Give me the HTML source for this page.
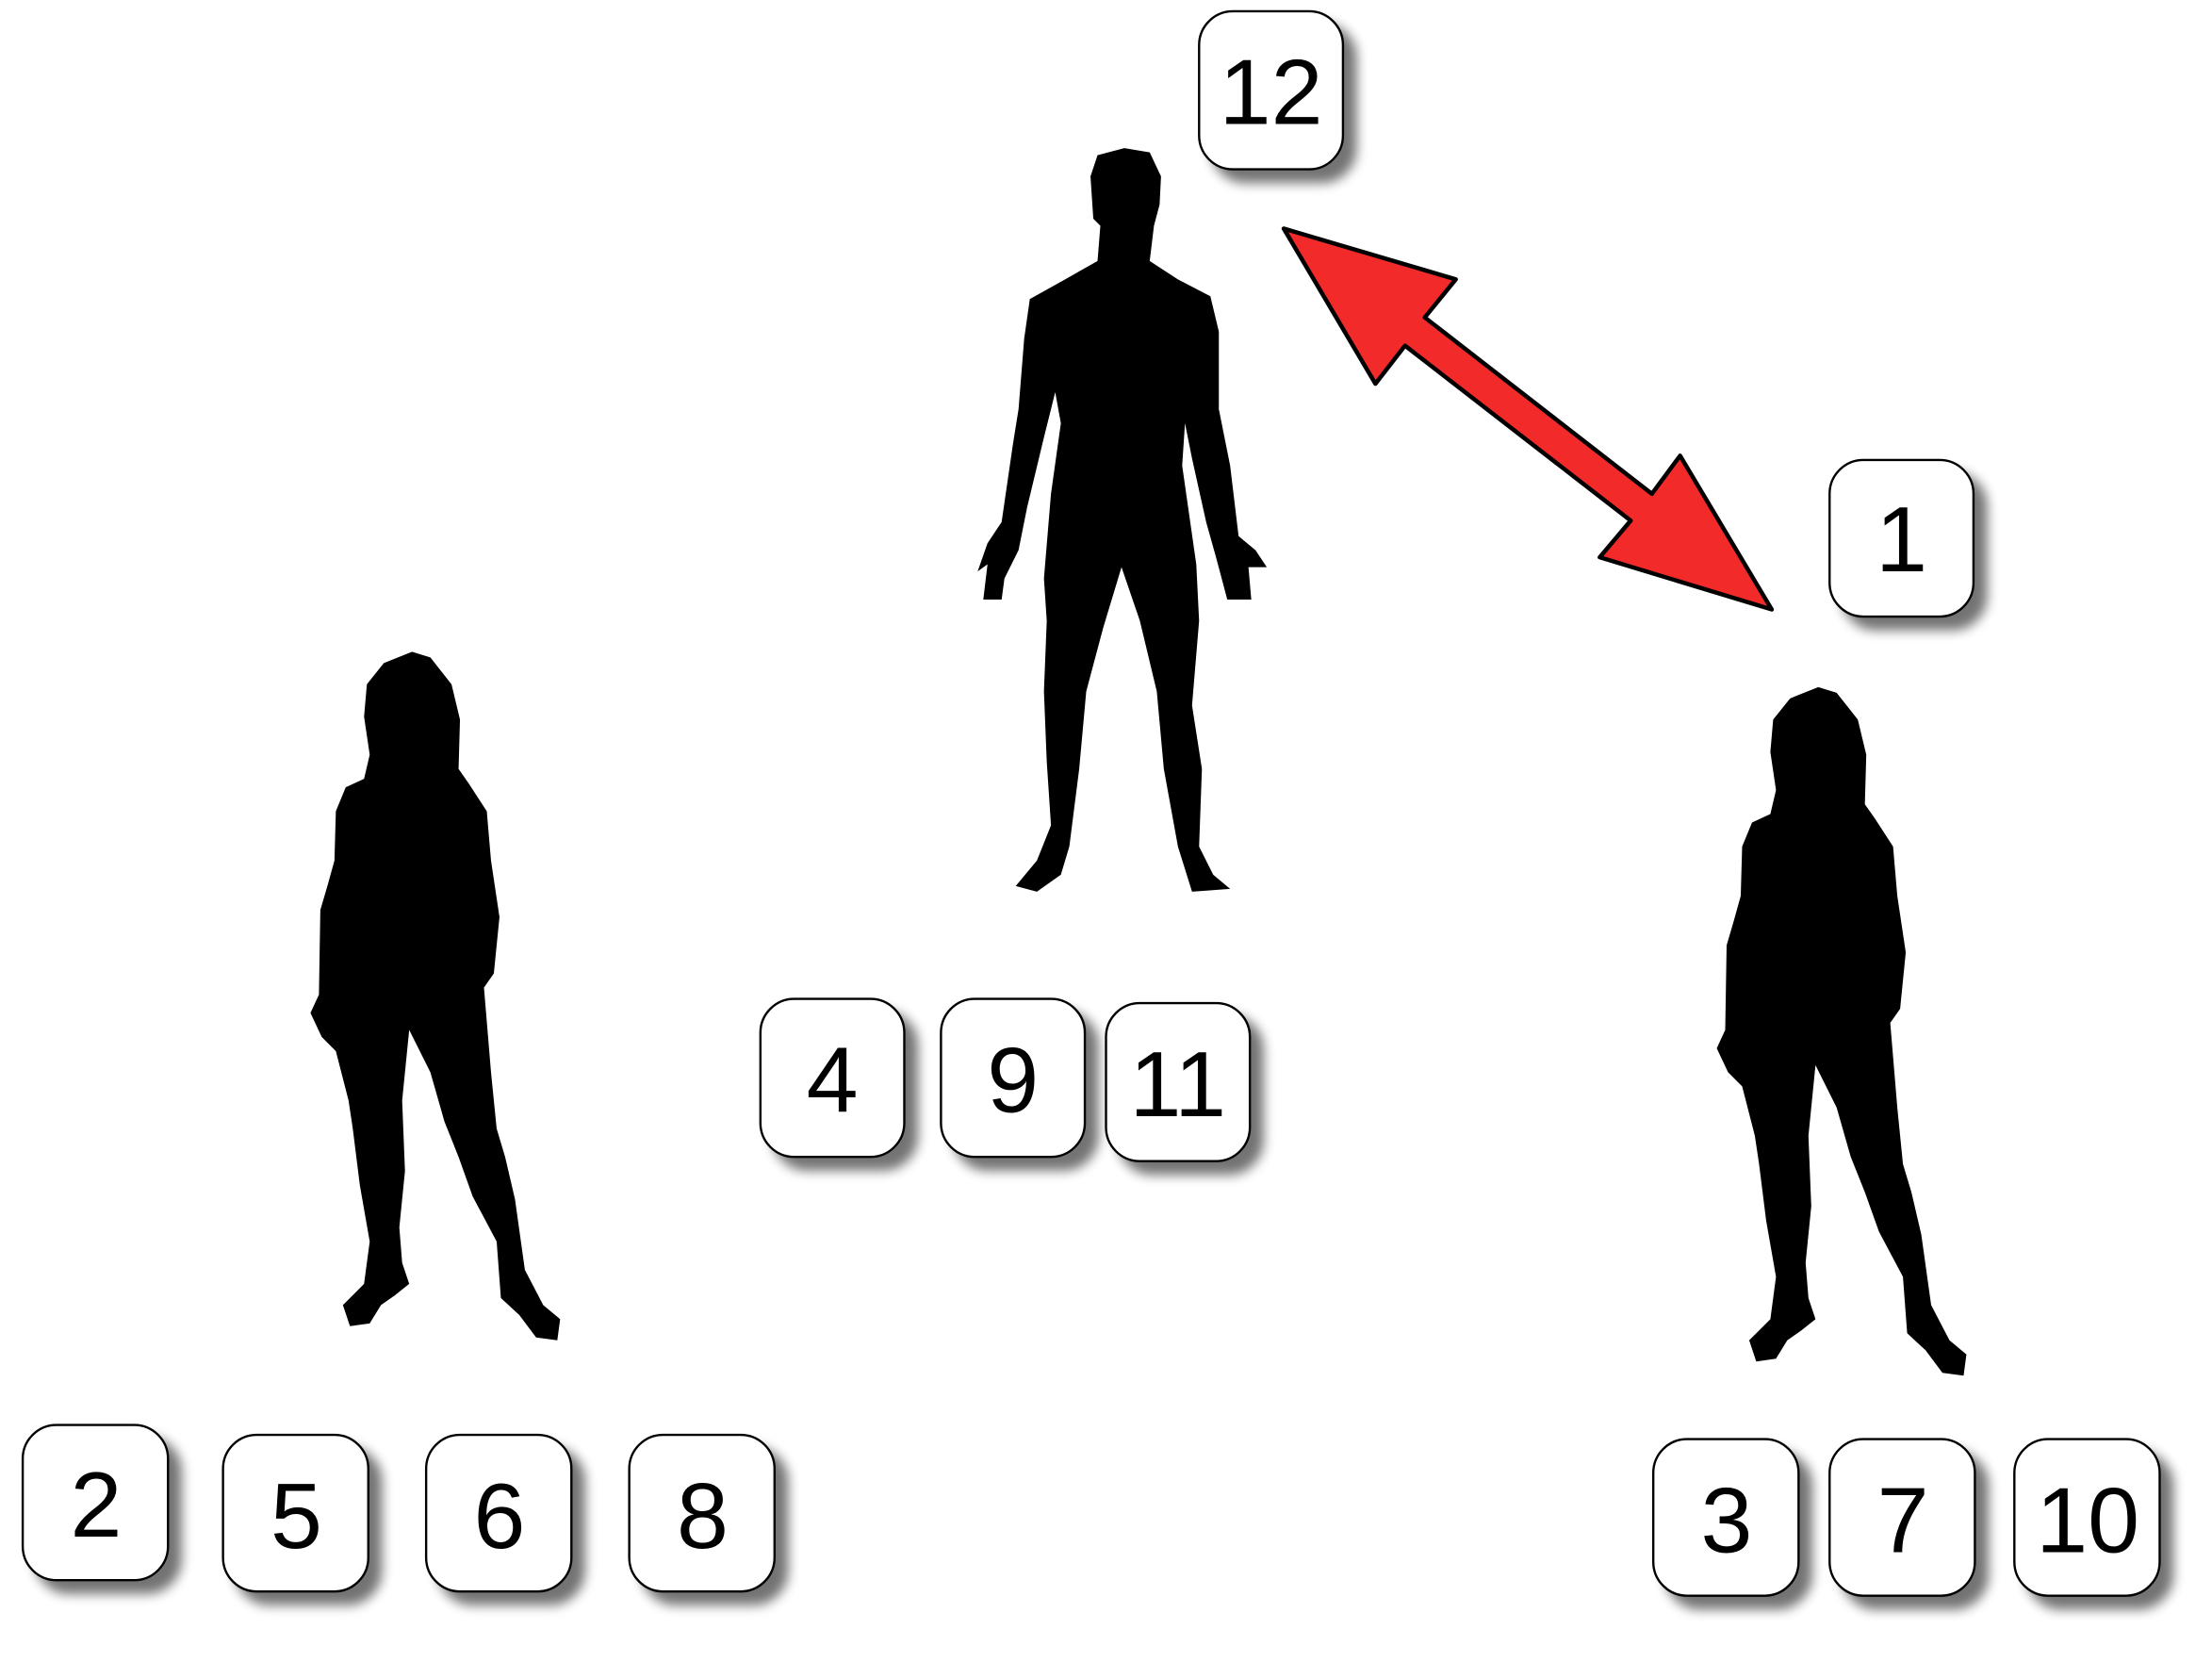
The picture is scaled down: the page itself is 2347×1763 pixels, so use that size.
<!DOCTYPE html>
<html><head><meta charset="utf-8"><style>
html,body{margin:0;padding:0;background:#fff;}
svg{display:block;}
.box rect{fill:#fff;stroke:#000;stroke-width:1.6;}
.box text{font-family:"Liberation Sans",sans-serif;font-size:66px;fill:#000;text-anchor:middle;}
</style></head><body>
<svg width="2347" height="1763" viewBox="0 0 1568 1178">
<defs>
<filter id="sh" x="-30%" y="-30%" width="170%" height="170%">
<feGaussianBlur in="SourceAlpha" stdDeviation="4"/>
<feOffset dx="9" dy="9" result="b"/>
<feComponentTransfer><feFuncA type="linear" slope="0.55"/></feComponentTransfer>
<feMerge><feMergeNode/><feMergeNode in="SourceGraphic"/></feMerge>
</filter>
<path id="woman" d="M292,462 L305,466 L320,485 L326,510 L325,545 L332,555 L345,575 L348,610 L354,650 L350,690 L343,700 L348,760 L352,800 L358,820 L365,850 L372,900 L385,925 L397,935 L395,950 L380,948 L368,932 L355,920 L352,880 L335,848 L325,820 L315,795 L305,760 L290,730 L285,780 L287,830 L283,870 L285,895 L290,910 L280,918 L270,925 L262,938 L248,940 L243,925 L258,910 L262,880 L255,840 L250,800 L247,780 L238,745 L228,735 L220,718 L226,705 L227,645 L232,628 L237,610 L238,575 L245,558 L258,552 L262,535 L258,508 L260,485 L272,470 Z"/>
</defs>
<path fill="#000" d="M797,105 L815,108 L823,125 L822,145 L818,160 L815,185 L835,198 L858,210 L864,235 L864,290 L872,330 L878,380 L890,390 L898,402 L885,402 L887,425 L870,425 L862,395 L855,370 L845,325 L840,300 L838,330 L848,400 L850,440 L845,500 L852,545 L850,600 L860,620 L872,630 L845,632 L835,600 L825,545 L820,490 L808,440 L795,402 L782,445 L770,490 L765,545 L758,600 L752,620 L735,632 L720,628 L735,610 L745,585 L742,540 L740,490 L742,440 L740,410 L745,350 L752,300 L748,278 L740,310 L728,360 L722,390 L712,410 L710,425 L697,425 L700,400 L693,405 L700,385 L710,370 L718,315 L722,290 L726,240 L730,212 L755,198 L778,185 L780,160 L775,155 L773,125 L778,110 Z"/>
<use href="#woman" fill="#000"/>
<use href="#woman" fill="#000" transform="translate(997,25)"/>
<polygon fill="#f22a2a" stroke="#000" stroke-width="3" stroke-linejoin="round" points="910,162 1032,198 1010,225 1171,350 1191,323 1256,432 1134,395 1156,369 996,245 975,272"/>
<g filter="url(#sh)">
<g class="box"><rect x="850" y="8" width="102" height="112" rx="24"/><text x="901" y="88">12</text></g>
<g class="box"><rect x="1297" y="326" width="102" height="111" rx="24"/><text x="1348" y="405">1</text></g>
<g class="box"><rect x="539" y="708" width="102" height="112" rx="24"/><text x="590" y="788">4</text></g>
<g class="box"><rect x="667" y="708" width="102" height="112" rx="24"/><text x="718" y="788">9</text></g>
<g class="box"><rect x="784" y="711" width="102" height="112" rx="24"/><text x="835" y="791">11</text></g>
<g class="box"><rect x="16" y="1010" width="103" height="110" rx="24"/><text x="68" y="1089">2</text></g>
<g class="box"><rect x="158" y="1017" width="103" height="111" rx="24"/><text x="210" y="1097">5</text></g>
<g class="box"><rect x="302" y="1017" width="103" height="111" rx="24"/><text x="354" y="1097">6</text></g>
<g class="box"><rect x="446" y="1017" width="103" height="111" rx="24"/><text x="498" y="1097">8</text></g>
<g class="box"><rect x="1172" y="1020" width="103" height="111" rx="24"/><text x="1224" y="1100">3</text></g>
<g class="box"><rect x="1297" y="1020" width="103" height="111" rx="24"/><text x="1349" y="1100">7</text></g>
<g class="box"><rect x="1428" y="1020" width="103" height="111" rx="24"/><text x="1480" y="1100">10</text></g>
</g>
</svg>
</body></html>
